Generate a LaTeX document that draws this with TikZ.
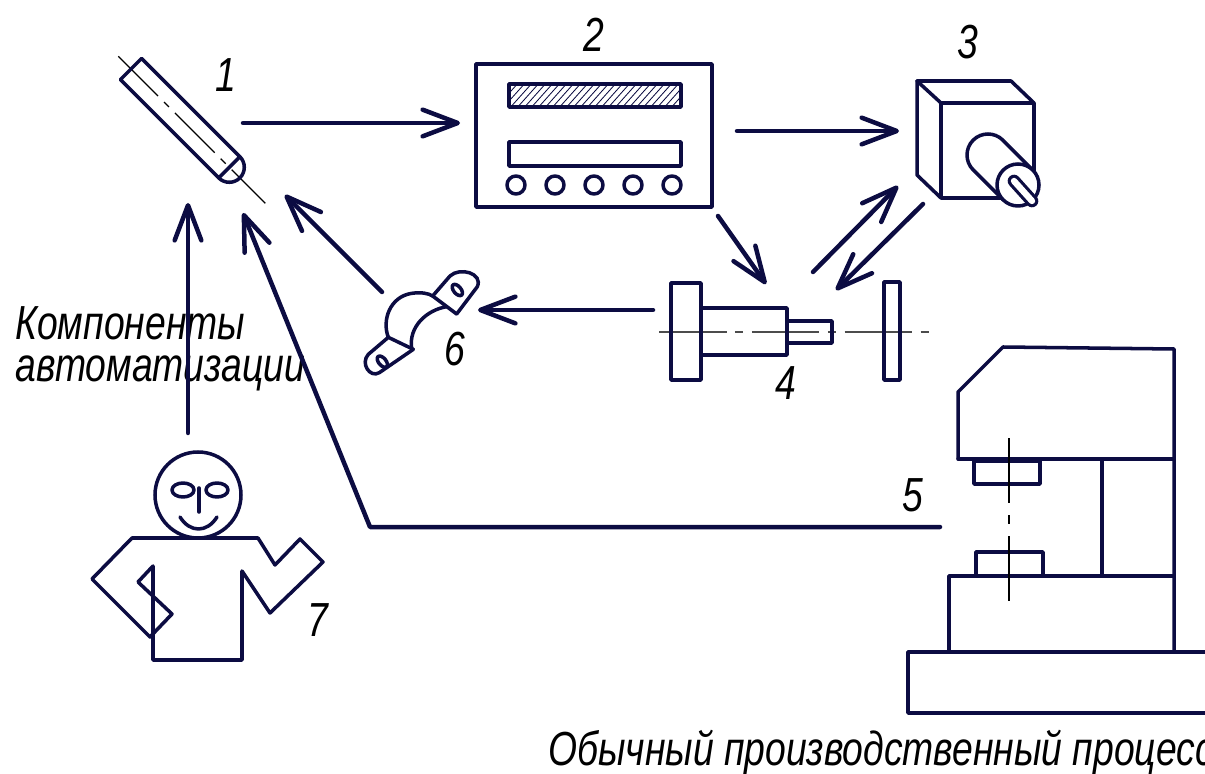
\documentclass[tikz,border=0pt]{standalone}
\usepackage{fontspec}
\setmainfont{Liberation Sans}[FakeStretch=0.78]
\usetikzlibrary{arrows.meta}
\definecolor{ink}{RGB}{12,12,66}

\begin{document}
\begin{tikzpicture}
[
	x=0.025cm, y=-0.025cm,
	part/.style={ink,line width=2.5pt,line join=round,line cap=round},
	link/.style={ink,line width=3.2pt,line cap=round,line join=round,-{Straight Barb[length=25pt,width=19pt,round]}},
	axisline/.style={line width=0.9pt,dash pattern=on 40pt off 6pt on 5pt off 6pt},
	num/.style={font=\fontsize{34}{40}\selectfont\itshape,inner sep=0pt}
]

	\useasboundingbox (0,0) rectangle (1205,774);

	% 1: sensor
	\begin{scope}[shift={(131,69)},rotate=-45]
		\draw[axisline] (-18,0) -- (190,0);
		\draw[part] (0,-15) rectangle (139,15);
		\draw[part] (139,-15) arc[start angle=-90,end angle=90,radius=15];
	\end{scope}
	\node[num] (n1) at (226,75) {1};

	% 2: controller
	\draw[part] (476,64) rectangle (712,207);
	\begin{scope}
		\clip (509,84) rectangle (681,107);
		\foreach \i in {0,...,31}
			\draw[ink,line width=0.6pt] (480+7*\i,110) -- ++(26,-29);
	\end{scope}
	\draw[part] (509,84) rectangle (681,107);
	\draw[part] (509,142) rectangle (681,166);
	\foreach \cx in {516,555,594,633,672}
		\draw[part] (\cx,185) circle[radius=9];
	\node[num] (n2) at (594,35) {2};

	% 3: drive
	\draw[part] (917,81) -- (1011,81) -- (1034,103) -- (941,103) -- cycle;
	\draw[part] (917,81) -- (917,175) -- (941,198);
	\draw[part] (941,103) rectangle (1034,198);
	\begin{scope}[shift={(988,155)},rotate=-45]
		\draw[part,fill=white] (42.4,-21) -- (0,-21) arc[start angle=-90,end angle=-270,radius=21] -- (42.4,21);
	\end{scope}
	\draw[part,fill=white] (1018,185) circle[radius=21];
	\draw[ink,line width=9pt,line cap=round] (1014,181) -- (1032,201);
	\draw[white,line width=4.5pt,line cap=round] (1014,181) -- (1032,201);
	\node[num] (n3) at (968,42) {3};

	% 4: cylinder
	\draw[gray!60!black,line width=0.9pt,dash pattern=on 48pt off 6pt on 6pt off 6pt] (659,332) -- (934,332);
	\draw[part] (671,283) rectangle (701,380);
	\draw[part] (701,308) rectangle (787,355);
	\draw[part] (787,321) rectangle (832,343);
	\draw[part] (884,282) rectangle (900,380);
	\node[num] (n4) at (786,383) {4};

	% 5: press
	\draw[part] (958,459) -- (958,392) -- (1003,347) -- (1174,349) -- (1174,652);
	\draw[part] (958,459) -- (1174,459);
	\draw[part] (974,461) rectangle (1040,484);
	\draw[part] (1102,459) -- (1102,576);
	\draw[part] (949,652) -- (949,576) -- (1174,576);
	\draw[part] (976,576) rectangle (1043,552);
	\draw[part] (1215,652) -- (908,652) -- (908,713) -- (1215,713);
	\draw[line width=0.9pt,dash pattern=on 46pt off 9pt on 6pt off 9pt] (1009,438) -- (1009,606);
	\node[num] (n5) at (913,495) {5};

	% 6: clamp
	\begin{scope}[shift={(350,260)},scale=1/3]
		\draw[part] (190,268) -- (88,338) .. controls (60,355) and (30,310) .. (55,283) -- (115,232)
			.. controls (95,180) and (120,110) .. (185,100) .. controls (215,96) and (235,100) .. (248,108)
			-- (300,48) .. controls (330,20) and (400,40) .. (382,80) -- (320,162);
		\draw[part] (248,108) -- (320,162);
		\draw[part] (115,232) -- (190,268);
		\draw[part] (290,140) .. controls (230,150) and (175,200) .. (185,266);
		\draw[part] (322,90) ellipse[x radius=20,y radius=11,rotate=-50];
		\draw[part] (97,305) ellipse[x radius=20,y radius=11,rotate=-50];
	\end{scope}
	\node[num] (n6) at (455,349) {6};

	% 7: operator
	\draw[part] (198,495) circle[radius=43];
	\draw[part] (183,490) ellipse[x radius=11,y radius=7];
	\draw[part] (217,490) ellipse[x radius=11,y radius=7];
	\draw[part] (199,488) -- (199,512);
	\draw[part] (180,517) .. controls (190,533) and (207,533) .. (217,517);
	\draw[part] (132,538) -- (258,538) -- (275,565) -- (300,539) -- (323,562) -- (270,613) -- (242,571)
		-- (242,660) -- (153,660) -- (153,566) -- (138,582) -- (172,614) -- (150,637) -- (92,579) -- cycle;
	\node[num] (n7) at (318,620) {7};

	% texts
	\node[num,anchor=base west] (komp) at (15,340) {Компоненты};
	\node[num,anchor=base west] (avt) at (15,382) {автоматизации};
	\node[num,anchor=base west] (proc) at (548,765) {Обычный производственный процесс};

	% links
	\coordinate (pen-r) at (243,123);
	\coordinate (dev-l) at (460,123);
	\coordinate (dev-r) at (737,131);
	\coordinate (drv-l) at (899,131);
	\coordinate (dev-b) at (718,216);
	\coordinate (cyl-t) at (766,284);
	\coordinate (cyl-tr) at (813,272);
	\coordinate (drv-b) at (898,186);
	\coordinate (drv-br) at (923,204);
	\coordinate (cyl-r) at (836,290);
	\coordinate (cyl-l) at (653,310);
	\coordinate (clp-r) at (478,310);
	\coordinate (clp-t) at (382,292);
	\coordinate (pen-d1) at (285,195);
	\coordinate (man-t) at (188,433);
	\coordinate (pen-d2) at (188,203);
	\coordinate (prs-l) at (940,527);
	\coordinate (bend) at (370,527);
	\coordinate (pen-d3) at (243,213);

	\draw[link] (pen-r) -- (dev-l);
	\draw[link] (dev-r) -- (drv-l);
	\draw[link] (dev-b) -- (cyl-t);
	\draw[link] (cyl-tr) -- (drv-b);
	\draw[link] (drv-br) -- (cyl-r);
	\draw[link] (cyl-l) -- (clp-r);
	\draw[link] (clp-t) -- (pen-d1);
	\draw[link] (man-t) -- (pen-d2);
	\draw[link] (prs-l) -- (bend) -- (pen-d3);

\end{tikzpicture}
\end{document}
